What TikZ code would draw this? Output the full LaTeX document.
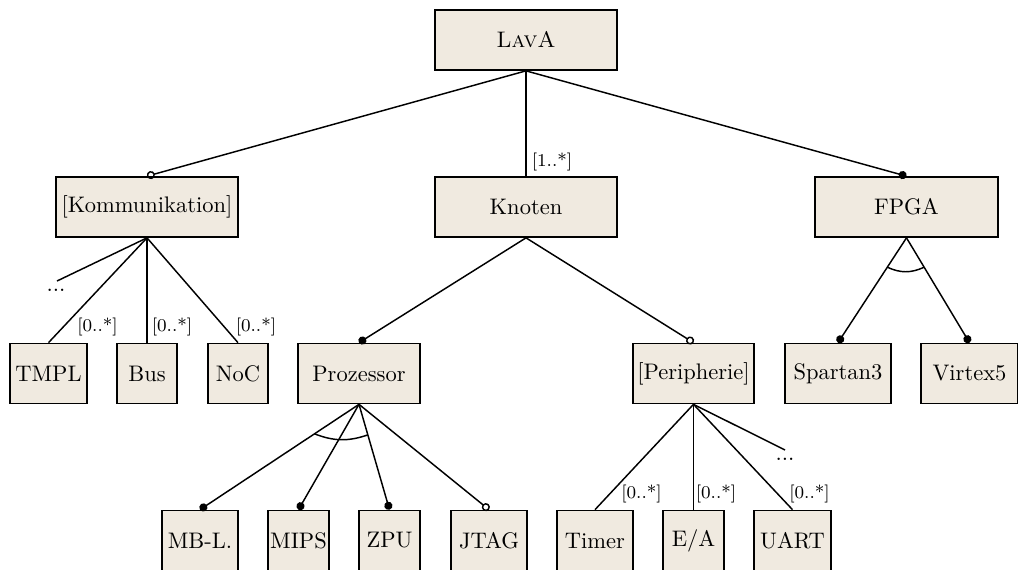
\documentclass[tikz,border=0pt]{standalone}
\usetikzlibrary{arrows.meta,calc}
\definecolor{boxfill}{RGB}{240,234,224}
\newcommand\pxu{0.4444pt}
\begin{document}
\begin{tikzpicture}[x=0.4444pt,y=-0.4444pt,
  feat/.style={draw, fill=boxfill, line width=0.75pt, inner sep=1pt,
    minimum height=60*\pxu, font=\normalsize},
  conn/.style={line width=0.65pt},
  mand/.style={conn, -{Circle[length=3.6pt]}},
  opt/.style={conn, -{Circle[open,length=3.6pt]}},
  lbl/.style={font=\footnotesize, inner sep=0pt},
  more/.style={inner sep=0pt, anchor=base},
  grp/.style={line width=0.65pt}]
\useasboundingbox (0,0) rectangle (1018,569);

% root
\node[feat, minimum width=182*\pxu] (lava) at (526,40) {\textsc{LavA}};

% first level
\node[feat, minimum width=182*\pxu] (komm) at (147,207) {[Kommunikation]};
\node[feat, minimum width=182*\pxu] (knoten) at (526,207) {Knoten};
\node[feat, minimum width=183*\pxu] (fpga) at (906.5,207) {FPGA};

% second level
\node[feat, minimum width=77*\pxu] (tmpl) at (48.5,373.5) {TMPL};
\node[feat, minimum width=60*\pxu] (bus) at (147,373.5) {Bus};
\node[feat, minimum width=60*\pxu] (noc) at (238,373.5) {NoC};
\node[feat, minimum width=122*\pxu] (proz) at (359,373.5) {Prozessor};
\node[feat, minimum width=121*\pxu] (peri) at (693.5,373.5) {[Peripherie]};
\node[feat, minimum width=106*\pxu] (spartan) at (838,373.5) {Spartan3};
\node[feat, minimum width=97*\pxu] (virtex) at (969.5,373.5) {Virtex5};

% third level
\node[feat, minimum width=76*\pxu] (mbl) at (200,540.5) {MB-L.};
\node[feat, minimum width=61*\pxu] (mips) at (298.5,540.5) {MIPS};
\node[feat, minimum width=61*\pxu] (zpu) at (389.5,540.5) {ZPU};
\node[feat, minimum width=76*\pxu] (jtag) at (489,540.5) {JTAG};
\node[feat, minimum width=76*\pxu] (timer) at (595,540.5) {Timer};
\node[feat, minimum width=61*\pxu] (ea) at (693.5,540.5) {E/A};
\node[feat, minimum width=77*\pxu] (uart) at (792.5,540.5) {UART};

% open ends
\coordinate (kmore) at (57,281);
\coordinate (pmore) at (785,450);
\node[more] (kdots) at (56,291) {...};
\node[more] (pdots) at (785,460) {...};

% connectors
\draw[opt] (lava.south) -- (komm.north);
\draw[conn] (lava.south) -- (knoten.north);
\draw[mand] (lava.south) -- (fpga.north);

\draw[conn] (komm.south) -- (kmore);
\draw[conn] (komm.south) -- (tmpl.north);
\draw[conn] (komm.south) -- (bus.north);
\draw[conn] (komm.south) -- (noc.north);

\draw[mand] (knoten.south) -- (proz.north);
\draw[opt] (knoten.south) -- (peri.north);

\draw[mand] (fpga.south) -- (spartan.north);
\draw[mand] (fpga.south) -- (virtex.north);

\draw[mand] (proz.south) -- (mbl.north);
\draw[mand] (proz.south) -- (mips.north);
\draw[mand] (proz.south) -- (zpu.north);
\draw[opt] (proz.south) -- (jtag.north);

\draw[conn] (peri.south) -- (timer.north);
\draw[conn] (peri.south) -- (ea.north);
\draw[conn] (peri.south) -- (uart.north);
\draw[conn] (peri.south) -- (pmore);

% alternative groups
\draw[grp] ($(proz.south)!0.28!(mbl.north)$) to[bend right=20] ($(proz.south)!0.29!(zpu.north)$);
\draw[grp] ($(fpga.south)!0.28!(spartan.north)$) to[bend right=25] ($(fpga.south)!0.28!(virtex.north)$);

% cardinalities
\node[lbl] (c-knoten) at (552,162) {[1..*]};
\node[lbl] (c-tmpl) at (97.5,327) {[0..*]};
\node[lbl] (c-bus) at (172,327) {[0..*]};
\node[lbl] (c-noc) at (256,327) {[0..*]};
\node[lbl] (c-timer) at (641.5,494) {[0..*]};
\node[lbl] (c-ea) at (716,494) {[0..*]};
\node[lbl] (c-uart) at (809.5,494) {[0..*]};
\end{tikzpicture}
\end{document}
